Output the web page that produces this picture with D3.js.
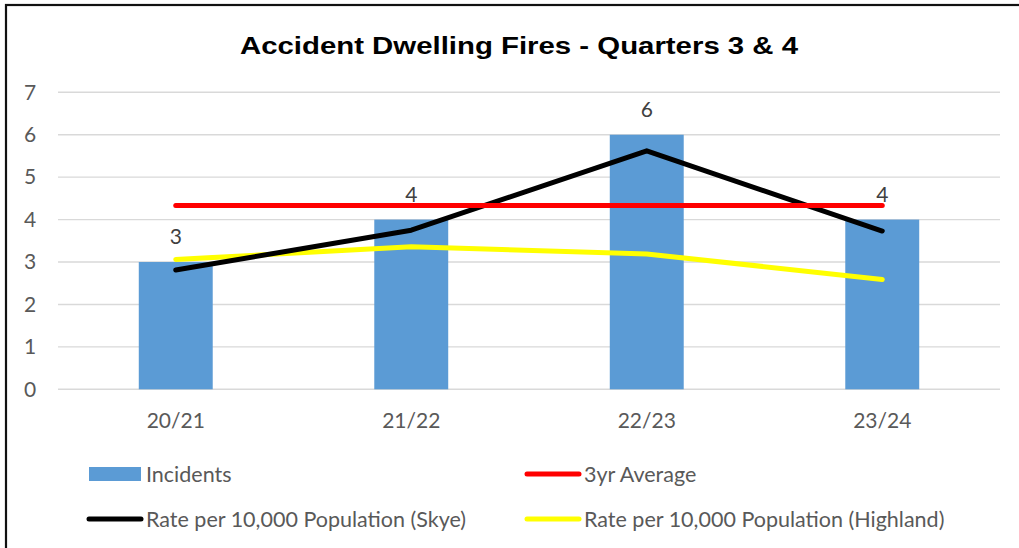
<!DOCTYPE html>
<html>
<head>
<meta charset="utf-8">
<script src="https://cdn.jsdelivr.net/npm/d3@7"></script>
<style>
  html, body { margin: 0; padding: 0; background: #fff; }
  svg { display: block; }
</style>
</head>
<body>
<div id="chart"></div>
<script>
// data
var years = ['20/21', '21/22', '22/23', '23/24'];
var incidents = [3, 4, 6, 4];
var threeYrAvg = [4.33, 4.33, 4.33, 4.33];
var rateSkye = [2.81, 3.75, 5.62, 3.73];
var rateHighland = [3.06, 3.36, 3.19, 2.59];
var yTicks = [0, 1, 2, 3, 4, 5, 6, 7];

var width = 1019, height = 548;
var axisFont = 'Lato, "Open Sans", sans-serif';
var textGrey = '#595959';

var svg = d3.select('#chart')
    .append('svg')
    .attr('width', width)
    .attr('height', height);

// frame (only top and left visible in the crop)
svg.append('rect')
    .attr('x', 6).attr('y', 5)
    .attr('width', width + 20).attr('height', height + 20)
    .attr('fill', '#fff')
    .attr('stroke', '#111')
    .attr('stroke-width', 2.2);

svg.append('text')
    .attr('transform', 'translate(519,54) scale(1.25,1)')
    .attr('text-anchor', 'middle')
    .style('font-family', '"Liberation Sans", Arial, sans-serif')
    .style('font-weight', 'bold')
    .style('font-size', '23.5px')
    .style('fill', '#000')
    .text('Accident Dwelling Fires - Quarters 3 & 4');

var x = d3.scaleBand()
    .domain(years)
    .range([58, 1000])
    .paddingInner(0.686)
    .paddingOuter(0.343);

var y = d3.scaleLinear()
    .domain([0, 7])
    .range([389.3, 92.3]);

var cx = function (d, i) { return x(years[i]) + x.bandwidth() / 2; };

// gridlines
svg.append('g').selectAll('line')
    .data(yTicks)
    .enter()
    .append('line')
    .attr('x1', 58).attr('x2', 1000)
    .attr('y1', function (d) { return y(d); })
    .attr('y2', function (d) { return y(d); })
    .attr('stroke', '#d9d9d9')
    .attr('stroke-width', 1.4);

// y axis labels
var yAxis = svg.append('g')
    .attr('transform', 'translate(36,0)')
    .call(d3.axisLeft(y).tickValues(yTicks).tickFormat(d3.format('d')).tickSize(0).tickPadding(0));
yAxis.select('.domain').remove();
yAxis.selectAll('text')
    .attr('text-anchor', 'middle')
    .attr('x', -6)
    .style('font-family', axisFont)
    .style('font-size', '21px')
    .style('fill', textGrey);

// x axis labels
var xAxis = svg.append('g')
    .attr('transform', 'translate(0,' + y(0) + ')')
    .call(d3.axisBottom(x).tickSize(0).tickPadding(24));
xAxis.select('.domain').remove();
xAxis.selectAll('text')
    .style('font-family', axisFont)
    .style('font-size', '21px')
    .style('fill', textGrey);

// bars
svg.append('g').selectAll('rect')
    .data(incidents)
    .enter()
    .append('rect')
    .attr('x', function (d, i) { return x(years[i]); })
    .attr('y', function (d) { return y(d); })
    .attr('width', x.bandwidth())
    .attr('height', function (d) { return y(0) - y(d); })
    .attr('fill', '#5b9bd5');

// lines
var line = d3.line()
    .x(cx)
    .y(function (d) { return y(d); });

var series = [
    { name: '3yr Average', values: threeYrAvg, color: '#ff0000' },
    { name: 'Rate per 10,000 Population (Skye)', values: rateSkye, color: '#000000' },
    { name: 'Rate per 10,000 Population (Highland)', values: rateHighland, color: '#ffff00' }
];

svg.append('g').selectAll('path')
    .data([series[2], series[1], series[0]])
    .enter()
    .append('path')
    .attr('d', function (d) { return line(d.values); })
    .attr('fill', 'none')
    .attr('stroke', function (d) { return d.color; })
    .attr('stroke-width', 5)
    .attr('stroke-linecap', 'round')
    .attr('stroke-linejoin', 'round');

// bar value labels
svg.append('g').selectAll('text')
    .data(incidents)
    .enter()
    .append('text')
    .attr('x', cx)
    .attr('y', function (d) { return y(d) - 18; })
    .attr('text-anchor', 'middle')
    .style('font-family', axisFont)
    .style('font-size', '21px')
    .style('fill', '#404040')
    .text(function (d) { return d; });

// legend
var legend = [
    { name: 'Incidents', type: 'bar', color: '#5b9bd5', lx: 89, ly: 474 },
    { name: '3yr Average', type: 'line', color: '#ff0000', lx: 527, ly: 474 },
    { name: 'Rate per 10,000 Population (Skye)', type: 'line', color: '#000000', lx: 89, ly: 519 },
    { name: 'Rate per 10,000 Population (Highland)', type: 'line', color: '#ffff00', lx: 527, ly: 519 }
];

svg.append('g').selectAll('g')
    .data(legend)
    .enter()
    .append('g')
    .attr('transform', function (d) { return 'translate(' + d.lx + ',' + d.ly + ')'; })
    .each(function (d) {
        var g = d3.select(this);
        if (d.type === 'bar') {
            g.append('rect')
                .attr('x', 0).attr('y', -7)
                .attr('width', 52).attr('height', 14)
                .attr('fill', d.color);
        } else {
            g.append('line')
                .attr('x1', 0).attr('x2', 52)
                .attr('y1', 0).attr('y2', 0)
                .attr('stroke', d.color)
                .attr('stroke-width', 5)
                .attr('stroke-linecap', 'round');
        }
        g.append('text')
            .attr('x', 57)
            .attr('y', 7.5)
            .style('font-family', axisFont)
            .style('font-size', '21.5px')
            .style('fill', textGrey)
            .text(d.name);
    });
</script>
</body>
</html>
